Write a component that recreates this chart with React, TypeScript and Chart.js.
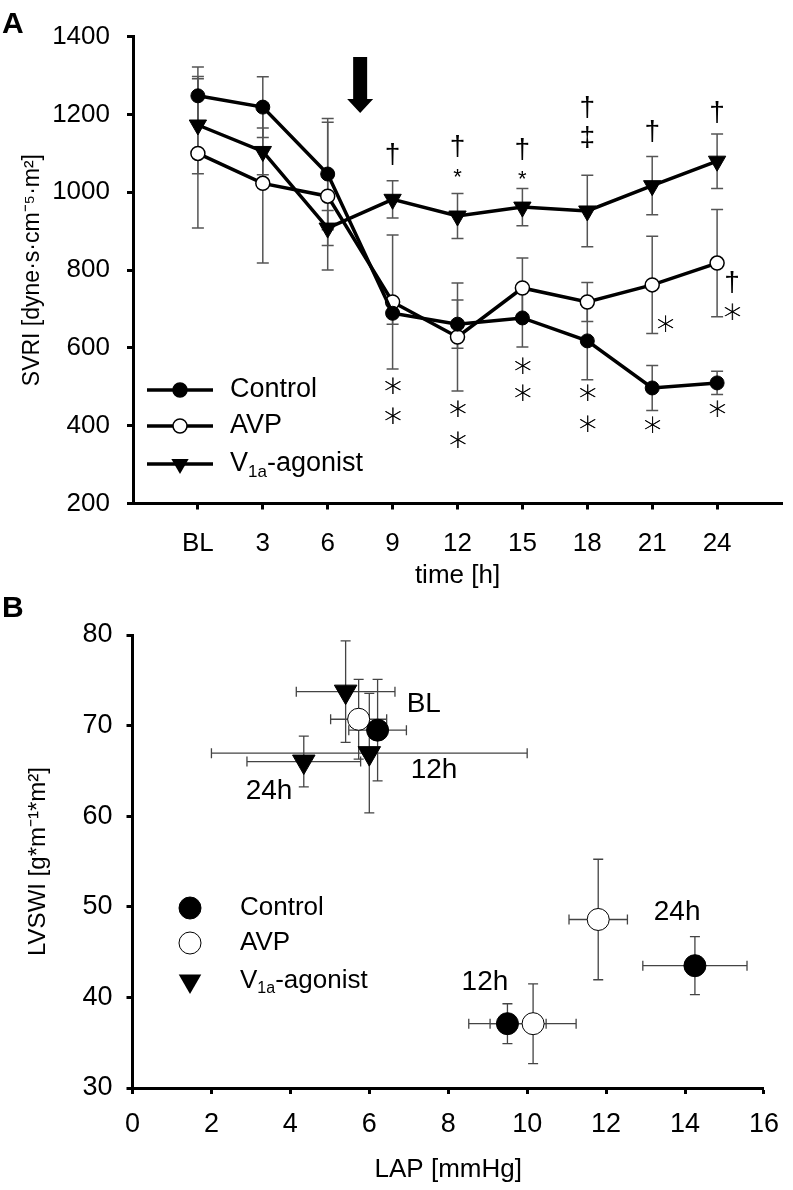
import React, { useEffect, useRef } from 'react';
import { Chart, registerables } from 'chart.js';

Chart.register(...registerables);

const FONT = '"Liberation Sans", Arial, Helvetica, sans-serif';
const SYM_FONT = '"DejaVu Sans", "Liberation Sans", sans-serif';

// ---------------- Panel A data ----------------
const timeLabels = ['BL', '3', '6', '9', '12', '15', '18', '21', '24'];
const svriControl = [1248, 1219, 1047, 689, 661, 677, 618, 497, 510];
const svriControlSD = [74, 78, 143, 28, 62, 75, 100, 58, 30];
const svriAVP = [1100, 1023, 990, 718, 628, 754, 718, 762, 818];
const svriAVPSD = [192, 205, 190, 172, 139, 77, 50, 125, 138];
const svriV1a = [1173, 1105, 908, 982, 939, 962, 952, 1017, 1080];
const svriV1aSD = [125, 60, 45, 48, 58, 48, 92, 75, 70];
const svriTicks = [200, 400, 600, 800, 1000, 1200, 1400];

// significance marks: [time index, SVRI value]
const daggerMarks = [[3, 1096], [4, 1116], [5, 1109], [6, 1217], [7, 1155], [8, 1204], [8.23, 767]];
const doubleDaggerMarks = [[6, 1140]];
const smallStarMarks = [[4, 1050], [5, 1044]];
const starMarks = [
  [3, 497], [3, 420], [4, 438], [4, 358], [5, 548], [5, 481], [6, 479], [6, 400],
  [7, 397], [7.2, 656], [8, 438], [8.23, 689],
];
const arrowAt = 2.5;
const arrowFrom = 1348;
const arrowTo = 1204;

// ---------------- Panel B data ----------------
const lapControl = [6.21, 9.5, 14.25];
const lapControlSD = [0.73, 0.98, 1.32];
const lvswiControl = [69.5, 37.1, 43.5];
const lvswiControlSD = [5.6, 2.2, 3.2];
const lapAVP = [5.73, 10.15, 11.8];
const lapAVPSD = [0.71, 1.09, 0.74];
const lvswiAVP = [70.7, 37.1, 48.6];
const lvswiAVPSD = [4.4, 4.4, 6.65];
const lapV1a = [5.4, 6.0, 4.34];
const lapV1aSD = [1.25, 4.0, 1.44];
const lvswiV1a = [73.75, 66.96, 66.03];
const lvswiV1aSD = [5.6, 6.6, 2.8];
const lapTicks = [0, 2, 4, 6, 8, 10, 12, 14, 16];
const lvswiTicks = [30, 40, 50, 60, 70, 80];
const timeTagText = ['BL', '24h', '12h', '24h', '12h'];
const timeTagX = [7.38, 3.46, 7.64, 13.8, 8.93];
const timeTagY = [72.3, 62.8, 65.1, 49.4, 41.7];

const seriesNames = ['Control', 'AVP', 'V'];

// ---------------- helpers ----------------
function drawErrorBars(chart: any) {
  const { ctx } = chart;
  const xs = chart.scales.x;
  const ys = chart.scales.y;
  ctx.save();
  chart.data.datasets.forEach((ds: any) => {
    ctx.strokeStyle = ds.errColor || '#555';
    ctx.lineWidth = ds.errWidth || 1.5;
    const cap = ds.capHalf || 6;
    (ds.data as any[]).forEach((p, i) => {
      const px = xs.getPixelForValue(p.x);
      const py = ys.getPixelForValue(p.y);
      if (ds.errY) {
        const e = ds.errY[i];
        const y1 = ys.getPixelForValue(p.y + e);
        const y2 = ys.getPixelForValue(p.y - e);
        ctx.beginPath();
        ctx.moveTo(px, y1); ctx.lineTo(px, y2);
        ctx.moveTo(px - cap, y1); ctx.lineTo(px + cap, y1);
        ctx.moveTo(px - cap, y2); ctx.lineTo(px + cap, y2);
        ctx.stroke();
      }
      if (ds.errX) {
        const e = ds.errX[i];
        const x1 = xs.getPixelForValue(p.x - e);
        const x2 = xs.getPixelForValue(p.x + e);
        ctx.beginPath();
        ctx.moveTo(x1, py); ctx.lineTo(x2, py);
        ctx.moveTo(x1, py - cap); ctx.lineTo(x1, py + cap);
        ctx.moveTo(x2, py - cap); ctx.lineTo(x2, py + cap);
        ctx.stroke();
      }
    });
  });
  ctx.restore();
}

function drawMarker(ctx: CanvasRenderingContext2D, kind: number, x: number, y: number, r: number, tr: number, bw: number) {
  ctx.beginPath();
  if (kind === 2) {
    const h = tr;
    ctx.moveTo(x, y + h);
    ctx.lineTo(x + h * Math.sin((2 * Math.PI) / 3), y - h * 0.5);
    ctx.lineTo(x - h * Math.sin((2 * Math.PI) / 3), y - h * 0.5);
    ctx.closePath();
    ctx.fillStyle = '#000';
    ctx.fill();
  } else {
    ctx.arc(x, y, r, 0, Math.PI * 2);
    ctx.fillStyle = kind === 0 ? '#000' : '#fff';
    ctx.fill();
    ctx.lineWidth = bw;
    ctx.strokeStyle = '#000';
    ctx.stroke();
  }
}

function drawLegendLabel(ctx: CanvasRenderingContext2D, idx: number, x: number, y: number, size: number) {
  ctx.fillStyle = '#000';
  ctx.textAlign = 'left';
  ctx.textBaseline = 'middle';
  ctx.font = `${size}px ${FONT}`;
  if (idx < 2) {
    ctx.fillText(seriesNames[idx], x, y);
    return;
  }
  ctx.fillText('V', x, y);
  let cx = x + ctx.measureText('V').width;
  const sub = Math.round(size * 0.62);
  ctx.font = `${sub}px ${FONT}`;
  ctx.fillText('1a', cx, y + size * 0.3);
  cx += ctx.measureText('1a').width;
  ctx.font = `${size}px ${FONT}`;
  ctx.fillText('-agonist', cx, y);
}

const axisGrid = {
  display: true,
  drawOnChartArea: false,
  drawTicks: true,
  tickLength: 6,
  tickWidth: 3,
  tickColor: '#000',
  color: '#000',
};
const axisBorder = { display: true, color: '#000', width: 3 };
const plainTick = (v: any) => String(v);

// ---------------- Panel A ----------------
function PanelA() {
  const ref = useRef<HTMLCanvasElement>(null);
  useEffect(() => {
    if (!ref.current) return;
    const panelPlugin = {
      id: 'panelA',
      beforeDatasetsDraw(chart: any) {
        drawErrorBars(chart);
      },
      afterDraw(chart: any) {
        const ctx = chart.ctx as CanvasRenderingContext2D;
        const xs = chart.scales.x;
        const ys = chart.scales.y;
        ctx.save();
        ctx.fillStyle = '#000';
        ctx.font = `bold 30px ${FONT}`;
        ctx.textAlign = 'left';
        ctx.textBaseline = 'alphabetic';
        ctx.fillText('A', 2, 33);

        // arrow
        const ax = xs.getPixelForValue(arrowAt);
        const y0 = ys.getPixelForValue(arrowFrom);
        const y1 = ys.getPixelForValue(arrowTo);
        ctx.beginPath();
        ctx.moveTo(ax - 7, y0);
        ctx.lineTo(ax + 7, y0);
        ctx.lineTo(ax + 7, y1 - 14);
        ctx.lineTo(ax + 13, y1 - 14);
        ctx.lineTo(ax, y1);
        ctx.lineTo(ax - 13, y1 - 14);
        ctx.lineTo(ax - 7, y1 - 14);
        ctx.closePath();
        ctx.fill();

        ctx.textAlign = 'center';
        ctx.textBaseline = 'middle';
        ctx.font = `28px ${FONT}`;
        daggerMarks.forEach(([t, v]) => ctx.fillText('\u2020', xs.getPixelForValue(t), ys.getPixelForValue(v)));
        doubleDaggerMarks.forEach(([t, v]) => ctx.fillText('\u2021', xs.getPixelForValue(t), ys.getPixelForValue(v)));
        ctx.font = `22px ${FONT}`;
        smallStarMarks.forEach(([t, v]) => ctx.fillText('*', xs.getPixelForValue(t), ys.getPixelForValue(v) + 5));
        ctx.font = `200 36px ${SYM_FONT}`;
        ctx.fillStyle = '#000';
        starMarks.forEach(([t, v]) => {
          const px = xs.getPixelForValue(t);
          const py = ys.getPixelForValue(v);
          ctx.fillText('\u2217', px, py);
          ctx.fillText('\u2217', px + 0.4, py);
        });

        // legend
        const rows = [390, 426, 464];
        rows.forEach((ry, i) => {
          ctx.beginPath();
          ctx.moveTo(147, ry);
          ctx.lineTo(213, ry);
          ctx.lineWidth = 3.5;
          ctx.strokeStyle = '#000';
          ctx.stroke();
          drawMarker(ctx, i, 180, ry, 7, 10, 1.5);
          drawLegendLabel(ctx, i, 230, ry, 27);
        });
        ctx.restore();
      },
    };

    const mk = (vals: number[]) => vals.map((v, i) => ({ x: i, y: v }));
    const chart = new Chart(ref.current, {
      type: 'line',
      data: {
        datasets: [
          {
            label: 'Control',
            data: mk(svriControl),
            borderColor: '#000',
            borderWidth: 3.5,
            pointStyle: 'circle',
            pointRadius: 7,
            pointBackgroundColor: '#000',
            pointBorderColor: '#000',
            pointBorderWidth: 1,
            errY: svriControlSD,
          } as any,
          {
            label: 'AVP',
            data: mk(svriAVP),
            borderColor: '#000',
            borderWidth: 3.5,
            pointStyle: 'circle',
            pointRadius: 7,
            pointBackgroundColor: '#fff',
            pointBorderColor: '#000',
            pointBorderWidth: 1.5,
            errY: svriAVPSD,
          } as any,
          {
            label: 'V1a-agonist',
            data: mk(svriV1a),
            borderColor: '#000',
            borderWidth: 3.5,
            pointStyle: 'triangle',
            pointRotation: 180,
            pointRadius: 10,
            pointBackgroundColor: '#000',
            pointBorderColor: '#000',
            pointBorderWidth: 1,
            errY: svriV1aSD,
          } as any,
        ],
      },
      options: {
        responsive: false,
        animation: false,
        devicePixelRatio: 1,
        layout: { padding: { top: 36.7, right: 11, bottom: 0, left: 0 } },
        plugins: { legend: { display: false }, tooltip: { enabled: false } },
        elements: { line: { tension: 0 } },
        scales: {
          x: {
            type: 'linear',
            min: -1,
            max: 9,
            afterBuildTicks: (s: any) => {
              s.ticks = timeLabels.map((_, i) => ({ value: i }));
            },
            afterFit: (s: any) => {
              s.height = 96.5;
            },
            ticks: {
              autoSkip: false,
              maxRotation: 0,
              padding: 19,
              color: '#000',
              font: { family: FONT, size: 26 },
              callback: (v: any) => timeLabels[v as number] ?? '',
            },
            grid: axisGrid,
            border: axisBorder,
            title: {
              display: true,
              text: 'time [h]',
              color: '#000',
              font: { family: FONT, size: 26 },
              padding: { top: 0, bottom: 9 },
            },
          },
          y: {
            type: 'linear',
            min: 200,
            max: 1400,
            afterBuildTicks: (s: any) => {
              s.ticks = svriTicks.map((v) => ({ value: v }));
            },
            afterFit: (s: any) => {
              s.width = 133;
            },
            ticks: {
              padding: 17,
              color: '#000',
              font: { family: FONT, size: 26 },
              callback: plainTick,
            },
            grid: axisGrid,
            border: axisBorder,
            title: {
              display: true,
              text: 'SVRI [dyne\u00b7s\u00b7cm\u207b\u2075\u00b7m\u00b2]',
              color: '#000',
              font: { family: FONT, size: 23 },
              padding: { top: 19, bottom: 0 },
            },
          },
        },
      } as any,
      plugins: [panelPlugin],
    });
    return () => chart.destroy();
  }, []);
  return (
    <canvas
      ref={ref}
      width={793}
      height={600}
      style={{ position: 'absolute', left: 0, top: 0, width: 793, height: 600 }}
    />
  );
}

// ---------------- Panel B ----------------
function PanelB() {
  const ref = useRef<HTMLCanvasElement>(null);
  useEffect(() => {
    if (!ref.current) return;
    const panelPlugin = {
      id: 'panelB',
      beforeDatasetsDraw(chart: any) {
        drawErrorBars(chart);
      },
      afterDraw(chart: any) {
        const ctx = chart.ctx as CanvasRenderingContext2D;
        const xs = chart.scales.x;
        const ys = chart.scales.y;
        ctx.save();
        ctx.fillStyle = '#000';
        ctx.font = `bold 30px ${FONT}`;
        ctx.textAlign = 'left';
        ctx.textBaseline = 'alphabetic';
        ctx.fillText('B', 2, 32);

        ctx.textAlign = 'center';
        ctx.textBaseline = 'middle';
        ctx.font = `28px ${FONT}`;
        timeTagText.forEach((t, i) => {
          ctx.fillText(t, xs.getPixelForValue(timeTagX[i]), ys.getPixelForValue(timeTagY[i]));
        });

        const rows = [323, 358, 396];
        rows.forEach((ry, i) => {
          drawMarker(ctx, i, 190, ry, 11, 13, 1);
          drawLegendLabel(ctx, i, 240, ry, 26);
        });
        ctx.restore();
      },
    };

    const mk = (xv: number[], yv: number[]) => xv.map((x, i) => ({ x, y: yv[i] }));
    const common = {
      showLine: false,
      errColor: '#444',
      errWidth: 1.3,
      capHalf: 5,
    };
    const chart = new Chart(ref.current, {
      type: 'scatter',
      data: {
        datasets: [
          {
            ...common,
            label: 'Control',
            data: mk(lapControl, lvswiControl),
            pointStyle: 'circle',
            pointRadius: 11,
            pointBackgroundColor: '#000',
            pointBorderColor: '#000',
            pointBorderWidth: 1,
            errX: lapControlSD,
            errY: lvswiControlSD,
          } as any,
          {
            ...common,
            label: 'AVP',
            data: mk(lapAVP, lvswiAVP),
            pointStyle: 'circle',
            pointRadius: 11,
            pointBackgroundColor: '#fff',
            pointBorderColor: '#000',
            pointBorderWidth: 1,
            errX: lapAVPSD,
            errY: lvswiAVPSD,
          } as any,
          {
            ...common,
            label: 'V1a-agonist',
            data: mk(lapV1a, lvswiV1a),
            pointStyle: 'triangle',
            pointRotation: 180,
            pointRadius: 13,
            pointBackgroundColor: '#000',
            pointBorderColor: '#000',
            pointBorderWidth: 1,
            errX: lapV1aSD,
            errY: lvswiV1aSD,
          } as any,
        ],
      },
      options: {
        responsive: false,
        animation: false,
        devicePixelRatio: 1,
        layout: { padding: { top: 50, right: 17, bottom: 0, left: 0 } },
        plugins: { legend: { display: false }, tooltip: { enabled: false } },
        scales: {
          x: {
            type: 'linear',
            min: 0,
            max: 16,
            afterBuildTicks: (s: any) => {
              s.ticks = lapTicks.map((v) => ({ value: v }));
            },
            afterFit: (s: any) => {
              s.height = 102;
            },
            ticks: {
              autoSkip: false,
              maxRotation: 0,
              padding: 14,
              color: '#000',
              font: { family: FONT, size: 27 },
              callback: plainTick,
            },
            grid: axisGrid,
            border: axisBorder,
            title: {
              display: true,
              text: 'LAP [mmHg]',
              color: '#000',
              font: { family: FONT, size: 26 },
              padding: { top: 0, bottom: 5 },
            },
          },
          y: {
            type: 'linear',
            min: 30,
            max: 80,
            afterBuildTicks: (s: any) => {
              s.ticks = lvswiTicks.map((v) => ({ value: v }));
            },
            afterFit: (s: any) => {
              s.width = 132.5;
            },
            ticks: {
              padding: 14,
              color: '#000',
              font: { family: FONT, size: 27 },
              callback: plainTick,
            },
            grid: axisGrid,
            border: axisBorder,
            title: {
              display: true,
              text: 'LVSWI [g*m\u207b\u00b9*m\u00b2]',
              color: '#000',
              font: { family: FONT, size: 24 },
              padding: { top: 24, bottom: 0 },
            },
          },
        },
      } as any,
      plugins: [panelPlugin],
    });
    return () => chart.destroy();
  }, []);
  return (
    <canvas
      ref={ref}
      width={793}
      height={605}
      style={{ position: 'absolute', left: 0, top: 585, width: 793, height: 605 }}
    />
  );
}

export default function App() {
  return (
    <div style={{ position: 'absolute', left: 0, top: 0, width: 793, height: 1190, background: '#fff' }}>
      <PanelA />
      <PanelB />
    </div>
  );
}
